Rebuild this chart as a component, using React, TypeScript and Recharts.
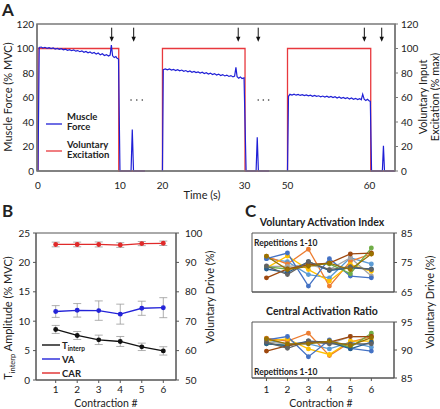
import React from "react";
import { ComposedChart, LineChart, Line, XAxis, YAxis, Scatter, ErrorBar, ReferenceArea } from "recharts";

const FONT = "Lato, 'Liberation Sans', sans-serif";
const INK = "#222";
const FRAME = "#7a7a7a";

// ---------- Panel A: force trace, time axis broken into three pieces ----------
const segStart = [0, 20, 50];
const segShift = [0, 4.82, 19.57];
const timeTicks = [0, 10, 20, 30, 50, 60];
const xDomainA = [-0.12, 43.54];

const force1 = [
  [0, 0], [0.15, 100.8], [0.4, 101.2], [0.6, 100.4], [0.85, 101.0], [1.1, 100.2], [1.35, 100.7],
  [1.6, 99.9], [1.85, 100.4], [2.1, 99.6], [2.35, 100.1], [2.6, 99.3], [2.85, 99.8], [3.1, 98.9],
  [3.35, 99.4], [3.6, 98.5], [3.85, 99.0], [4.1, 98.2], [4.35, 98.9], [4.6, 97.8], [4.85, 98.3],
  [5.1, 97.4], [5.35, 98.1], [5.6, 96.9], [5.85, 97.6], [6.1, 96.5], [6.35, 97.2], [6.6, 96.0],
  [6.85, 96.8], [7.1, 95.4], [7.35, 96.3], [7.6, 94.8], [7.85, 95.7], [8.1, 94.3], [8.35, 95.0],
  [8.6, 93.8], [8.8, 94.6], [8.95, 102.8], [9.1, 94.0], [9.3, 92.6], [9.5, 93.4], [9.65, 92.0],
  [9.82, 91.4], [10.0, 0], [11.35, 0], [11.5, 33.9], [11.65, 0], [13.05, 0],
];
const force2 = [
  [20.0, 0], [20.1, 82.8], [20.35, 83.4], [20.6, 82.6], [20.85, 83.3], [21.1, 82.4], [21.35, 83.0],
  [21.6, 82.0], [21.85, 82.7], [22.1, 81.8], [22.35, 82.4], [22.6, 81.4], [22.85, 82.0], [23.1, 81.0],
  [23.35, 81.7], [23.6, 80.6], [23.85, 81.3], [24.1, 80.3], [24.35, 80.9], [24.6, 80.0], [24.85, 80.6],
  [25.1, 79.6], [25.35, 80.2], [25.6, 79.2], [25.85, 79.9], [26.1, 78.8], [26.35, 79.5], [26.6, 78.4],
  [26.85, 79.1], [27.1, 78.0], [27.35, 78.7], [27.6, 77.6], [27.85, 78.3], [28.1, 77.2], [28.35, 77.9],
  [28.6, 76.8], [28.8, 77.5], [28.96, 84.6], [29.1, 77.0], [29.3, 75.8], [29.5, 76.8], [29.7, 75.5],
  [29.95, 76.0], [30.2, 0], [31.42, 0], [31.56, 27.5], [31.7, 0], [33.0, 0],
];
const force3 = [
  [50.0, 0], [50.12, 61.0], [50.3, 62.6], [50.55, 62.0], [50.8, 62.7], [51.05, 61.9], [51.3, 62.5],
  [51.55, 61.7], [51.8, 62.3], [52.05, 61.5], [52.3, 62.1], [52.55, 61.3], [52.8, 61.9], [53.05, 61.0],
  [53.3, 61.7], [53.55, 60.9], [53.8, 61.4], [54.05, 60.6], [54.3, 61.2], [54.55, 60.4], [54.8, 61.0],
  [55.05, 60.1], [55.3, 60.8], [55.55, 59.9], [55.8, 60.6], [56.05, 59.6], [56.3, 60.4], [56.55, 59.4],
  [56.8, 60.1], [57.05, 59.1], [57.3, 59.9], [57.55, 58.8], [57.8, 59.6], [58.05, 58.6], [58.3, 59.3],
  [58.55, 58.3], [58.8, 59.1], [59.0, 58.2], [59.17, 62.7], [59.35, 58.6], [59.55, 57.6], [59.75, 58.5],
  [59.95, 57.4], [60.1, 56.8], [60.25, 0], [61.57, 0], [61.7, 20.5], [61.83, 0], [63.1, 0],
];
const excite1 = [[0, 0], [0, 100], [9.85, 100], [9.85, 0], [13.05, 0]];
const excite2 = [[20, 0], [20, 100], [30.07, 100], [30.07, 0], [33.0, 0]];
const excite3 = [[50, 0], [50, 100], [60.15, 100], [60.15, 0], [63.1, 0]];
const arrowTimes = [8.99, 11.67, 29.24, 31.68, 59.37, 61.49];
const gapDotTimes = [11.35, 12.05, 12.72, 31.68, 32.3, 32.95];

function pos(t: number) {
  let s = 0;
  for (let i = 0; i < segStart.length; i++) if (t >= segStart[i]) s = segShift[i];
  return t - s;
}
const toPts = (arr: number[][]) => arr.map(([t, y]) => ({ x: pos(t), y }));
const tickPos = timeTicks.map(pos);
const fmtTime = (v: number) => {
  const i = tickPos.findIndex((p) => Math.abs(p - v) < 1e-6);
  return i >= 0 ? String(timeTicks[i]) : "";
};

// ---------- Panel B ----------
const contraction = [1, 2, 3, 4, 5, 6];
const tInterp = [8.6, 7.57, 6.83, 6.55, 5.64, 4.95];
const tInterpErr = [0.68, 0.68, 0.8, 0.85, 0.63, 0.71];
const vaMean = [73.3, 73.7, 73.6, 72.4, 74.4, 74.6];
const vaErr = [2.0, 2.3, 3.3, 3.4, 2.4, 3.4];
const carMean = [96.1, 96.1, 96.1, 95.9, 96.4, 96.5];
const carErr = [0.8, 0.8, 0.85, 0.8, 0.7, 0.75];

const rowsB = contraction.map((c, i) => ({
  x: c, t: tInterp[i], tErr: tInterpErr[i], va: vaMean[i], vaErr: vaErr[i], car: carMean[i], carErr: carErr[i],
}));

// ---------- Panel C ----------
const repColors = ["#5B9BD5", "#ED7D31", "#A5A5A5", "#FFC000", "#4472C4", "#70AD47", "#255E91", "#9E480E", "#636363", "#997300"];
const vaiReps = [
  [76.3, 75.3, 70.9, 69.8, 76.6, 74.5],
  [77.1, 74.5, 79.5, 67.0, 75.4, 77.9],
  [73.7, 73.7, 74.3, 72.6, 76.6, 70.4],
  [73.2, 77.2, 72.6, 68.7, 74.3, 72.0],
  [76.3, 78.2, 67.0, 76.3, 70.4, 69.8],
  [73.5, 72.8, 74.3, 74.5, 71.2, 79.9],
  [72.8, 71.6, 75.3, 72.3, 73.2, 72.8],
  [69.8, 72.8, 74.3, 74.8, 77.9, 78.2],
  [73.8, 70.9, 75.3, 72.6, 73.6, 72.6],
  [77.1, 72.6, 73.7, 74.8, 72.6, 77.9],
];
const carReps = [
  [91.8, 91.1, 91.1, 90.2, 91.4, 90.5],
  [92.1, 91.6, 93.0, 89.0, 91.4, 92.4],
  [91.4, 91.1, 91.4, 91.1, 92.4, 92.4],
  [91.6, 92.0, 90.2, 89.2, 91.6, 91.6],
  [91.8, 92.4, 88.8, 91.8, 90.3, 89.8],
  [91.1, 90.8, 91.4, 91.4, 90.5, 93.0],
  [91.1, 90.8, 91.6, 91.4, 90.2, 91.4],
  [89.8, 90.8, 91.4, 91.4, 92.4, 92.4],
  [91.4, 90.3, 91.6, 91.1, 91.1, 91.1],
  [92.0, 91.1, 91.1, 91.6, 90.8, 92.2],
];
const toRows = (reps: number[][]) =>
  contraction.map((c, i) => {
    const row: any = { x: c };
    reps.forEach((r, k) => (row["r" + k] = r[i]));
    return row;
  });

const tickStyle = { fontSize: 10, fill: INK, fontFamily: FONT };

const Arrow = (p: any) => {
  const { cx, cy } = p;
  return (
    <g>
      <line x1={cx} y1={cy} x2={cx} y2={cy + 10} stroke="#111" strokeWidth={1} />
      <path d={`M${cx - 2.2},${cy + 9} L${cx + 2.2},${cy + 9} L${cx},${cy + 14} Z`} fill="#111" />
    </g>
  );
};
const GapDot = (p: any) => <circle cx={p.cx} cy={p.cy} r={0.8} fill="#333" />;

function PanelA() {
  const red = "#e8383d";
  const blue = "#1f1fd6";
  return (
    <ComposedChart width={440} height={200} margin={{ top: 24, right: 0, bottom: 0, left: 0 }}>
      <XAxis dataKey="x" type="number" domain={xDomainA} allowDataOverflow ticks={tickPos} tickFormatter={fmtTime}
        height={29} tickLine={false} axisLine={{ stroke: FRAME, strokeWidth: 1.5 }} tick={tickStyle} tickMargin={5} />
      <YAxis yAxisId="l" domain={[0, 120]} ticks={[0, 20, 40, 60, 80, 100, 120]} width={37}
        tickLine={false} tickSize={0} tickMargin={3} axisLine={{ stroke: FRAME, strokeWidth: 1.5 }} tick={tickStyle} />
      <YAxis yAxisId="r" orientation="right" domain={[0, 120]} ticks={[0, 20, 40, 60, 80, 100, 120]} width={45}
        tickSize={3} tickMargin={3} tickLine={{ stroke: FRAME }} axisLine={{ stroke: FRAME, strokeWidth: 1.5 }} tick={tickStyle} />
      <ReferenceArea yAxisId="l" x1={xDomainA[0]} x2={xDomainA[1]} y1={0} y2={120} fill="none" stroke={FRAME} strokeWidth={1.5} />
      {[excite1, excite2, excite3].map((e, i) => (
        <Line key={"e" + i} yAxisId="r" data={toPts(e)} dataKey="y" stroke={red} strokeWidth={1.3} dot={false} isAnimationActive={false} />
      ))}
      {[force1, force2, force3].map((f, i) => (
        <Line key={"f" + i} yAxisId="l" data={toPts(f)} dataKey="y" stroke={blue} strokeWidth={1.2} dot={false} isAnimationActive={false} />
      ))}
      <Scatter yAxisId="l" data={arrowTimes.map((t) => ({ x: pos(t), y: 117 }))} dataKey="y" shape={Arrow} isAnimationActive={false} />
      <Scatter yAxisId="l" data={gapDotTimes.map((t) => ({ x: pos(t), y: 58 }))} dataKey="y" shape={GapDot} isAnimationActive={false} />
    </ComposedChart>
  );
}

function PanelB() {
  const errStyle = { stroke: "#9a9a9a", strokeWidth: 0.8 };
  return (
    <ComposedChart width={220} height={209} data={rowsB} margin={{ top: 33, right: 0, bottom: 0, left: 0 }}>
      <XAxis dataKey="x" type="number" domain={[0.085, 6.59]} ticks={contraction} height={29}
        tickSize={3} tickMargin={3} tickLine={{ stroke: "#555" }} axisLine={{ stroke: "#555" }} tick={tickStyle} />
      <YAxis yAxisId="l" domain={[0, 25]} ticks={[0, 5, 10, 15, 20, 25]} width={36}
        tickSize={3} tickMargin={3} tickLine={{ stroke: "#555" }} axisLine={{ stroke: "#555" }} tick={tickStyle} />
      <YAxis yAxisId="r" orientation="right" domain={[50, 100]} ticks={[50, 60, 70, 80, 90, 100]} width={44}
        tickSize={3} tickMargin={6} tickLine={{ stroke: "#555" }} axisLine={{ stroke: "#555" }} tick={tickStyle} />
      <ReferenceArea yAxisId="l" x1={0.085} x2={6.59} y1={0} y2={25} fill="none" stroke="#555" />
      <Line yAxisId="l" dataKey="t" stroke="#111" strokeWidth={1.3} dot={{ r: 1.8, fill: "#111", stroke: "#111" }} isAnimationActive={false}>
        <ErrorBar dataKey="tErr" width={4} direction="y" {...errStyle} />
      </Line>
      <Line yAxisId="r" dataKey="va" stroke="#2323d8" strokeWidth={1.3} dot={{ r: 1.8, fill: "#2323d8", stroke: "#2323d8" }} isAnimationActive={false}>
        <ErrorBar dataKey="vaErr" width={4} direction="y" {...errStyle} />
      </Line>
      <Line yAxisId="r" dataKey="car" stroke="#e02a2a" strokeWidth={1.3} dot={{ r: 1.8, fill: "#e02a2a", stroke: "#e02a2a" }} isAnimationActive={false}>
        <ErrorBar dataKey="carErr" width={4} direction="y" {...errStyle} />
      </Line>
    </ComposedChart>
  );
}

function PanelC(props: { reps: number[][]; domain: number[]; ticks: number[]; height: number; top: number; bottom: number; labels: boolean }) {
  const { reps, domain, ticks, height, top, bottom, labels } = props;
  return (
    <LineChart width={220} height={height} data={toRows(reps)} margin={{ top, right: 0, bottom: 0, left: 32 }}>
      <XAxis dataKey="x" type="number" domain={[0.31, 7.08]} ticks={contraction} height={bottom}
        tickSize={3} tickMargin={5} tickLine={{ stroke: "#555" }} axisLine={{ stroke: "#555" }} tick={labels ? tickStyle : false} />
      <YAxis orientation="right" domain={domain} ticks={ticks} width={46}
        tickSize={3} tickMargin={4} tickLine={{ stroke: "#555" }} axisLine={{ stroke: "#555" }} tick={tickStyle} />
      <ReferenceArea x1={0.31} x2={7.08} y1={domain[0]} y2={domain[1]} fill="none" stroke="#555" />
      {reps.map((_, k) => (
        <Line key={k} dataKey={"r" + k} stroke={repColors[k]} strokeWidth={1.3}
          dot={{ r: 1.8, fill: repColors[k], stroke: repColors[k] }} isAnimationActive={false} />
      ))}
    </LineChart>
  );
}

export default function App() {
  const t = { fontFamily: FONT, fill: INK };
  return (
    <div style={{ position: "absolute", left: 0, top: 0, width: 440, height: 409, background: "#fff", fontFamily: FONT }}>
      <div style={{ position: "absolute", left: 0, top: 0 }}><PanelA /></div>
      <div style={{ position: "absolute", left: 0, top: 200 }}><PanelB /></div>
      <div style={{ position: "absolute", left: 220, top: 225 }}>
        <PanelC reps={vaiReps} domain={[65, 85]} ticks={[65, 75, 85]} height={75} top={8} bottom={8} labels={false} />
      </div>
      <div style={{ position: "absolute", left: 220, top: 315 }}>
        <PanelC reps={carReps} domain={[85, 95]} ticks={[85, 90, 95]} height={94} top={7} bottom={31} labels={true} />
      </div>
      <svg width={440} height={409} style={{ position: "absolute", left: 0, top: 0, pointerEvents: "none" }}>
        <g style={{ fontFamily: FONT }}>
          <text x={2} y={16} fontSize={17} fontWeight="bold" {...t}>A</text>
          <text x={2} y={217} fontSize={17} fontWeight="bold" {...t}>B</text>
          <text x={245} y={217} fontSize={17} fontWeight="bold" {...t}>C</text>

          {/* panel A titles and legend */}
          <text transform="translate(12,97) rotate(-90)" textAnchor="middle" fontSize={11} {...t}>Muscle Force (% MVC)</text>
          <text transform="translate(427,97) rotate(-90)" textAnchor="middle" fontSize={11} {...t}>Voluntary Input</text>
          <text transform="translate(439,97) rotate(-90)" textAnchor="middle" fontSize={11} {...t}>Excitation (% max)</text>
          <text x={202} y={199} textAnchor="middle" fontSize={11} {...t}>Time (s)</text>
          <line x1={46} y1={124} x2={62} y2={124} stroke="#1f1fd6" strokeWidth={1.3} />
          <text x={67} y={120} fontSize={9.5} fontWeight="bold" {...t}>Muscle</text>
          <text x={67} y={130} fontSize={9.5} fontWeight="bold" {...t}>Force</text>
          <line x1={46} y1={151} x2={62} y2={151} stroke="#e8383d" strokeWidth={1.3} />
          <text x={67} y={147.5} fontSize={9.5} fontWeight="bold" {...t}>Voluntary</text>
          <text x={67} y={157.5} fontSize={9.5} fontWeight="bold" {...t}>Excitation</text>

          {/* panel B titles and legend */}
          <text transform="translate(12,318) rotate(-90)" textAnchor="middle" fontSize={11} {...t}>
            <tspan>T</tspan><tspan fontSize={7.5} dy={2.5}>interp</tspan><tspan dy={-2.5}> Amplitude (% MVC)</tspan>
          </text>
          <text transform="translate(214,297) rotate(-90)" textAnchor="middle" fontSize={11} {...t}>Voluntary Drive (%)</text>
          <text x={106} y={407} textAnchor="middle" fontSize={10.5} {...t}>Contraction #</text>
          <line x1={42} y1={345} x2={60} y2={345} stroke="#111" strokeWidth={1.4} />
          <text x={62} y={348.5} fontSize={9.5} fontWeight="bold" {...t}>
            <tspan>T</tspan><tspan fontSize={6.5} dy={2}>interp</tspan>
          </text>
          <line x1={42} y1={359} x2={60} y2={359} stroke="#2323d8" strokeWidth={1.4} />
          <text x={62} y={362.5} fontSize={9.5} fontWeight="bold" {...t}>VA</text>
          <line x1={42} y1={373} x2={60} y2={373} stroke="#e02a2a" strokeWidth={1.4} />
          <text x={62} y={376.5} fontSize={9.5} fontWeight="bold" {...t}>CAR</text>

          {/* panel C titles */}
          <text x={322} y={226} textAnchor="middle" fontSize={10.5} fontWeight="bold" {...t}>Voluntary Activation Index</text>
          <text x={322} y={315} textAnchor="middle" fontSize={10.5} fontWeight="bold" {...t}>Central Activation Ratio</text>
          <text x={254} y={245.5} fontSize={8.5} fontWeight="bold" {...t}>Repetitions 1-10</text>
          <text x={254} y={374.5} fontSize={8.5} fontWeight="bold" {...t}>Repetitions 1-10</text>
          <text transform="translate(434,302) rotate(-90)" textAnchor="middle" fontSize={11} {...t}>Voluntary Drive (%)</text>
          <text x={321} y={407} textAnchor="middle" fontSize={10.5} {...t}>Contraction #</text>
        </g>
      </svg>
    </div>
  );
}
